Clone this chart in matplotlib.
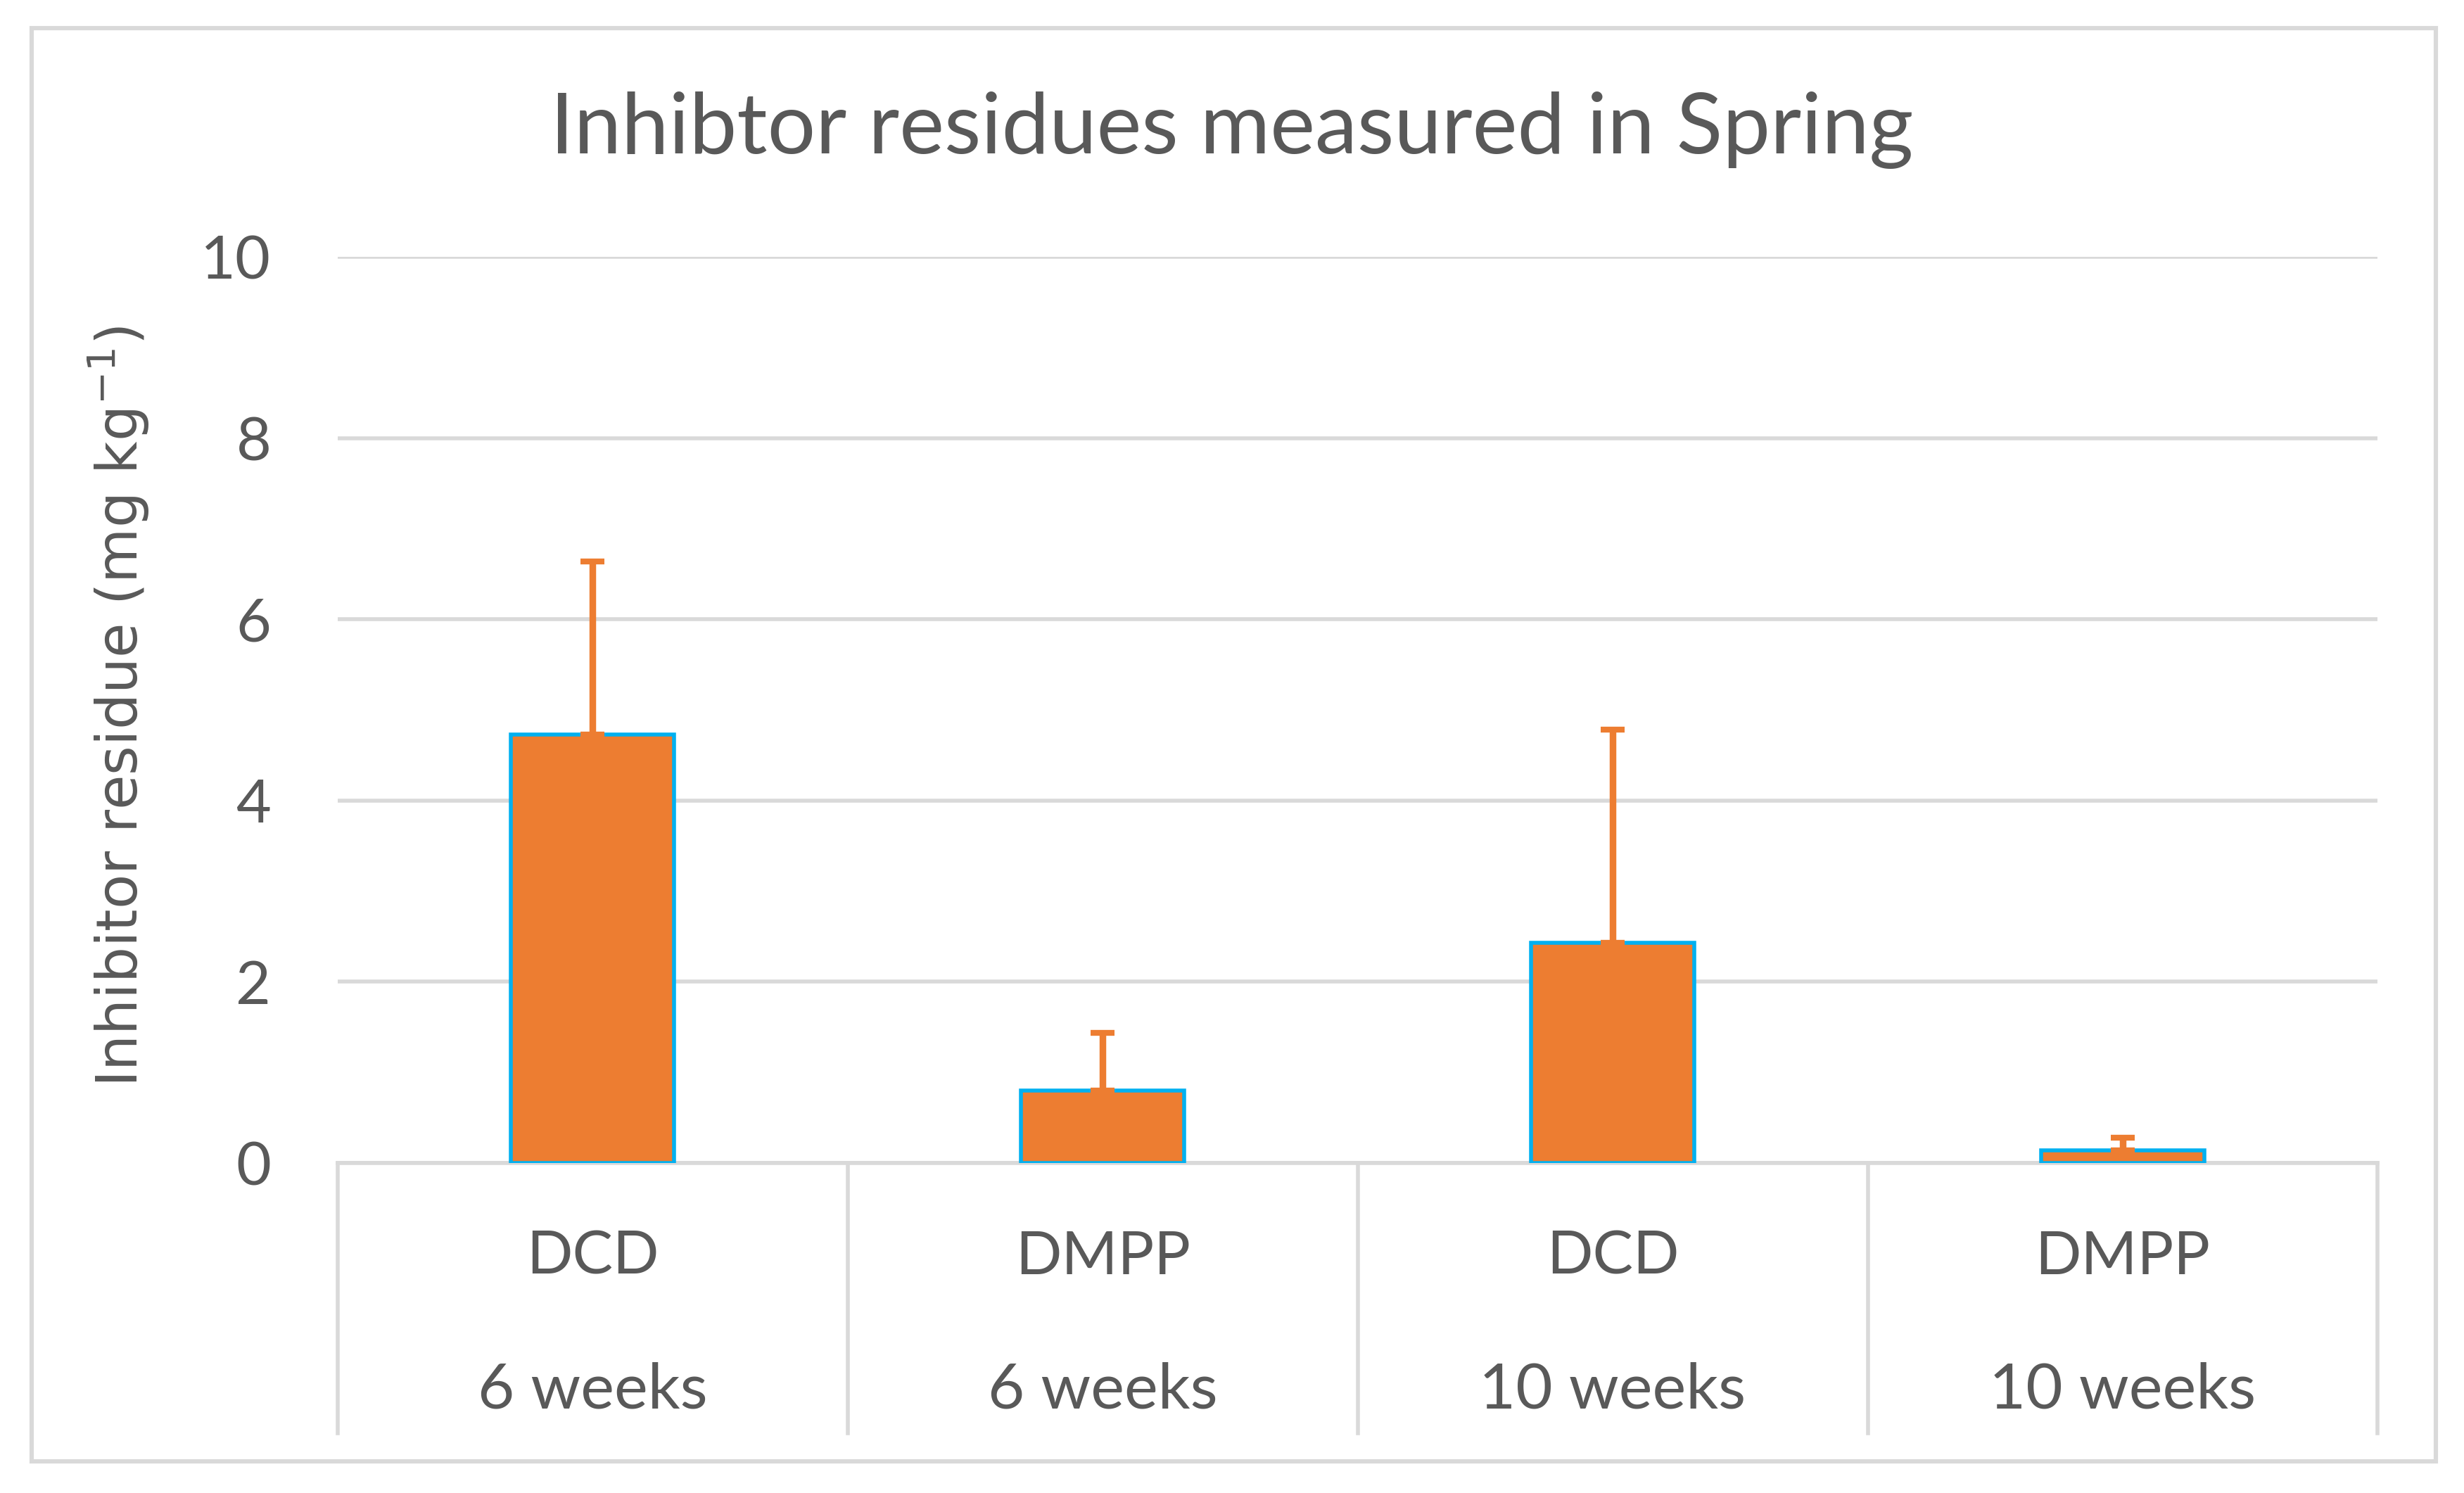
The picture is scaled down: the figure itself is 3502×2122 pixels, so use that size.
import matplotlib
matplotlib.use("Agg")
import matplotlib.pyplot as plt
from matplotlib.patches import Rectangle
import matplotlib.transforms as mtransforms
import numpy as np

# data
inhibitors = ["DCD", "DMPP", "DCD", "DMPP"]
periods = ["6 weeks", "6 weeks", "10 weeks", "10 weeks"]
residue = [4.73, 0.80, 2.43, 0.14]
residue_err = [1.91, 0.64, 2.35, 0.14]
y_ticks = [0, 2, 4, 6, 8, 10]

text_col = "#595959"
grid_col = "#d9d9d9"
bar_col = "#ED7D31"
edge_col = "#00B0F0"

plt.rcParams['font.family'] = ['Lato', 'DejaVu Sans']

fig = plt.figure(figsize=(17.51, 10.61), dpi=200)
ax = fig.add_axes([0.137, 0.221, 0.828, 0.607])

x = np.arange(len(residue))
ax.bar(x, residue, width=0.32, color=bar_col, edgecolor=edge_col, linewidth=2.0, zorder=3)
ax.errorbar(x, residue, yerr=[np.zeros(len(residue)), residue_err], fmt='none',
            ecolor=bar_col, elinewidth=3.4, capsize=6, capthick=3.0, zorder=4)

ax.set_xlim(-0.5, len(residue) - 0.5)
ax.set_ylim(0, 10)
ax.set_yticks(y_ticks)
ax.set_yticklabels([str(v) for v in y_ticks], fontsize=31, color=text_col)
ax.tick_params(axis='y', length=0, pad=34)
ax.set_xticks([])
ax.grid(axis='y', color=grid_col, linewidth=2.0, zorder=0)
for s in ["top", "right", "left"]:
    ax.spines[s].set_visible(False)
ax.spines["bottom"].set_color(grid_col)
ax.spines["bottom"].set_linewidth(2.0)

# multi-level category axis, excel style
trans = mtransforms.blended_transform_factory(ax.transData, ax.transAxes)
for b in np.arange(-0.5, len(residue), 1.0):
    ax.plot([b, b], [0, -0.298], transform=trans, color=grid_col, lw=2.0, clip_on=False)
for i in range(len(residue)):
    ax.text(x[i], -0.104, inhibitors[i], transform=trans, ha='center', va='center',
            fontsize=31, color=text_col)
    ax.text(x[i], -0.251, periods[i], transform=trans, ha='center', va='center',
            fontsize=32.5, color=text_col)

fig.text(0.048, 0.527, "Inhibitor residue (mg kg$^{-1}$)", rotation=90, ha='center', va='center',
         fontsize=29, color=text_col, family='DejaVu Sans')
fig.text(0.5, 0.913, "Inhibtor residues measured in Spring", ha='center', va='center',
         fontsize=43.5, color=text_col)

fig.patches.append(Rectangle((0.0128, 0.021), 0.9757, 0.96, transform=fig.transFigure,
                             fill=False, edgecolor=grid_col, linewidth=2.2))

fig.savefig("out.png", dpi=200, facecolor="white")
